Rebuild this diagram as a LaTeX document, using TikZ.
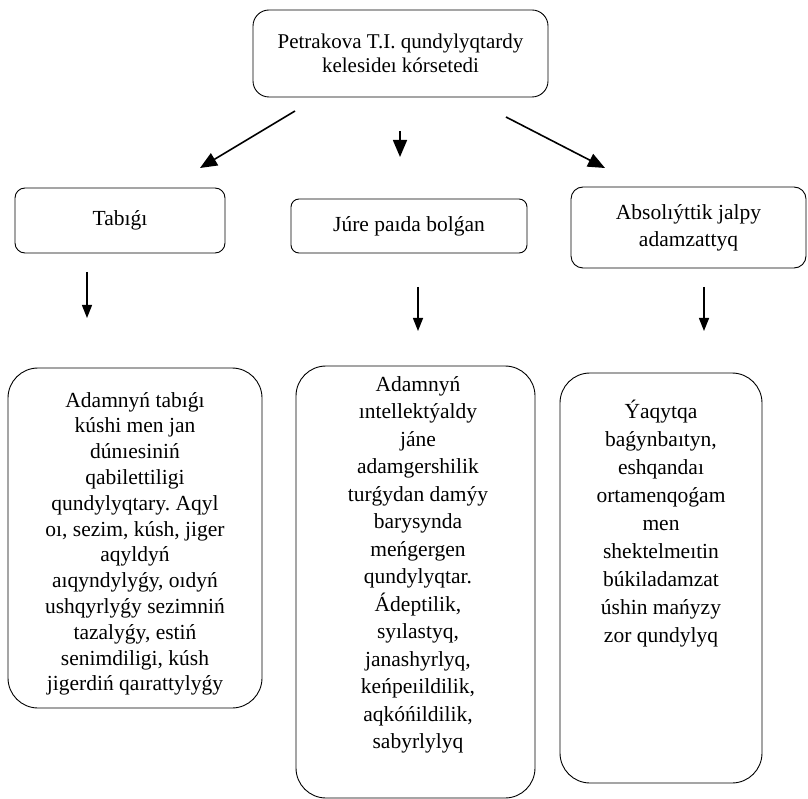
\documentclass[tikz,border=0pt]{standalone}
\usepackage{fontspec}
\setmainfont{Liberation Serif}
\usetikzlibrary{arrows.meta}
\frenchspacing
\begin{document}
\begin{tikzpicture}[x=1pt, y=-1pt,
    box/.style = {draw, rounded corners=10pt, line width=0.9pt, inner sep=0pt, align=center,
                  font=\fontsize{21.5}{27}\selectfont},
    card/.style = {draw, rounded corners=30pt, line width=0.9pt, inner sep=0pt},
    cardtext/.style = {anchor=north, inner sep=0pt, align=center, font=\fontsize{21.5}{27.5}\selectfont},
    arr/.style = {line width=1.6pt, -{Triangle[length=17pt, width=14pt]}},
    darr/.style = {line width=1.4pt, -{Triangle[length=13pt, width=10pt]}}]
    \useasboundingbox (0,0) rectangle (808,799);
    \node[box, rounded corners=16pt, minimum width=295pt, minimum height=87pt,
          font=\fontsize{21}{23.5}\selectfont] (root) at (400.5,53.5)
          {Petrakova T.I. qundylyqtardy\\kelesideı kórsetedi};
    \node[box, minimum width=210pt, minimum height=65pt] (nat) at (120,220.5) {Tabıǵı};
    \node[box, rounded corners=8pt, minimum width=236pt, minimum height=54pt] (acq) at (409,226) {Júre paıda bolǵan};
    \node[box, rounded corners=12pt, minimum width=235pt, minimum height=81pt] (abs) at (688.5,227.5)
          {Absolıýttik jalpy\\adamzattyq};
    \node[card, minimum width=254pt, minimum height=340pt] (natcard) at (135,538) {};
    \node[cardtext, font=\fontsize{21.5}{25.8}\selectfont] (nattext) at (135,392)
          {Adamnyń tabıǵı\\kúshi men jan\\dúnıesiniń\\qabilettiligi\\qundylyqtary. Aqyl\\oı, sezim, kúsh, jiger\\aqyldyń\\aıqyndylyǵy, oıdyń\\ushqyrlyǵy sezimniń\\tazalyǵy, estiń\\senimdiligi, kúsh\\jigerdiń qaırattylyǵy};
    \node[card, minimum width=239pt, minimum height=432pt] (acqcard) at (415.5,582) {};
    \node[cardtext] (acqtext) at (418,376)
          {Adamnyń\\ıntellektýaldy\\jáne\\adamgershilik\\turǵydan damýy\\barysynda\\meńgergen\\qundylyqtar.\\Ádeptilik,\\syılastyq,\\janashyrlyq,\\keńpeıildilik,\\aqkóńildilik,\\sabyrlylyq};
    \node[card, minimum width=202pt, minimum height=410pt] (abscard) at (661,578) {};
    \node[cardtext, font=\fontsize{21.5}{28}\selectfont] (abstext) at (661,400)
          {Ýaqytqa\\baǵynbaıtyn,\\eshqandaı\\ortamenqoǵam\\men\\shektelmeıtin\\búkiladamzat\\úshin mańyzy\\zor qundylyq};
    \coordinate (l1) at (295,111);
    \coordinate (l2) at (200,168);
    \coordinate (m1) at (400,131);
    \coordinate (m2) at (400,157);
    \coordinate (r1) at (506,117);
    \coordinate (r2) at (605,168);
    \draw[arr] (l1) -- (l2);
    \draw[arr] (m1) -- (m2);
    \draw[arr] (r1) -- (r2);
    \coordinate (nd1) at (87,272);
    \coordinate (nd2) at (87,318);
    \coordinate (ad1) at (418,287);
    \coordinate (ad2) at (418,331);
    \coordinate (bd1) at (704,287);
    \coordinate (bd2) at (704,331);
    \draw[darr] (nd1) -- (nd2);
    \draw[darr] (ad1) -- (ad2);
    \draw[darr] (bd1) -- (bd2);
\end{tikzpicture}
\end{document}
